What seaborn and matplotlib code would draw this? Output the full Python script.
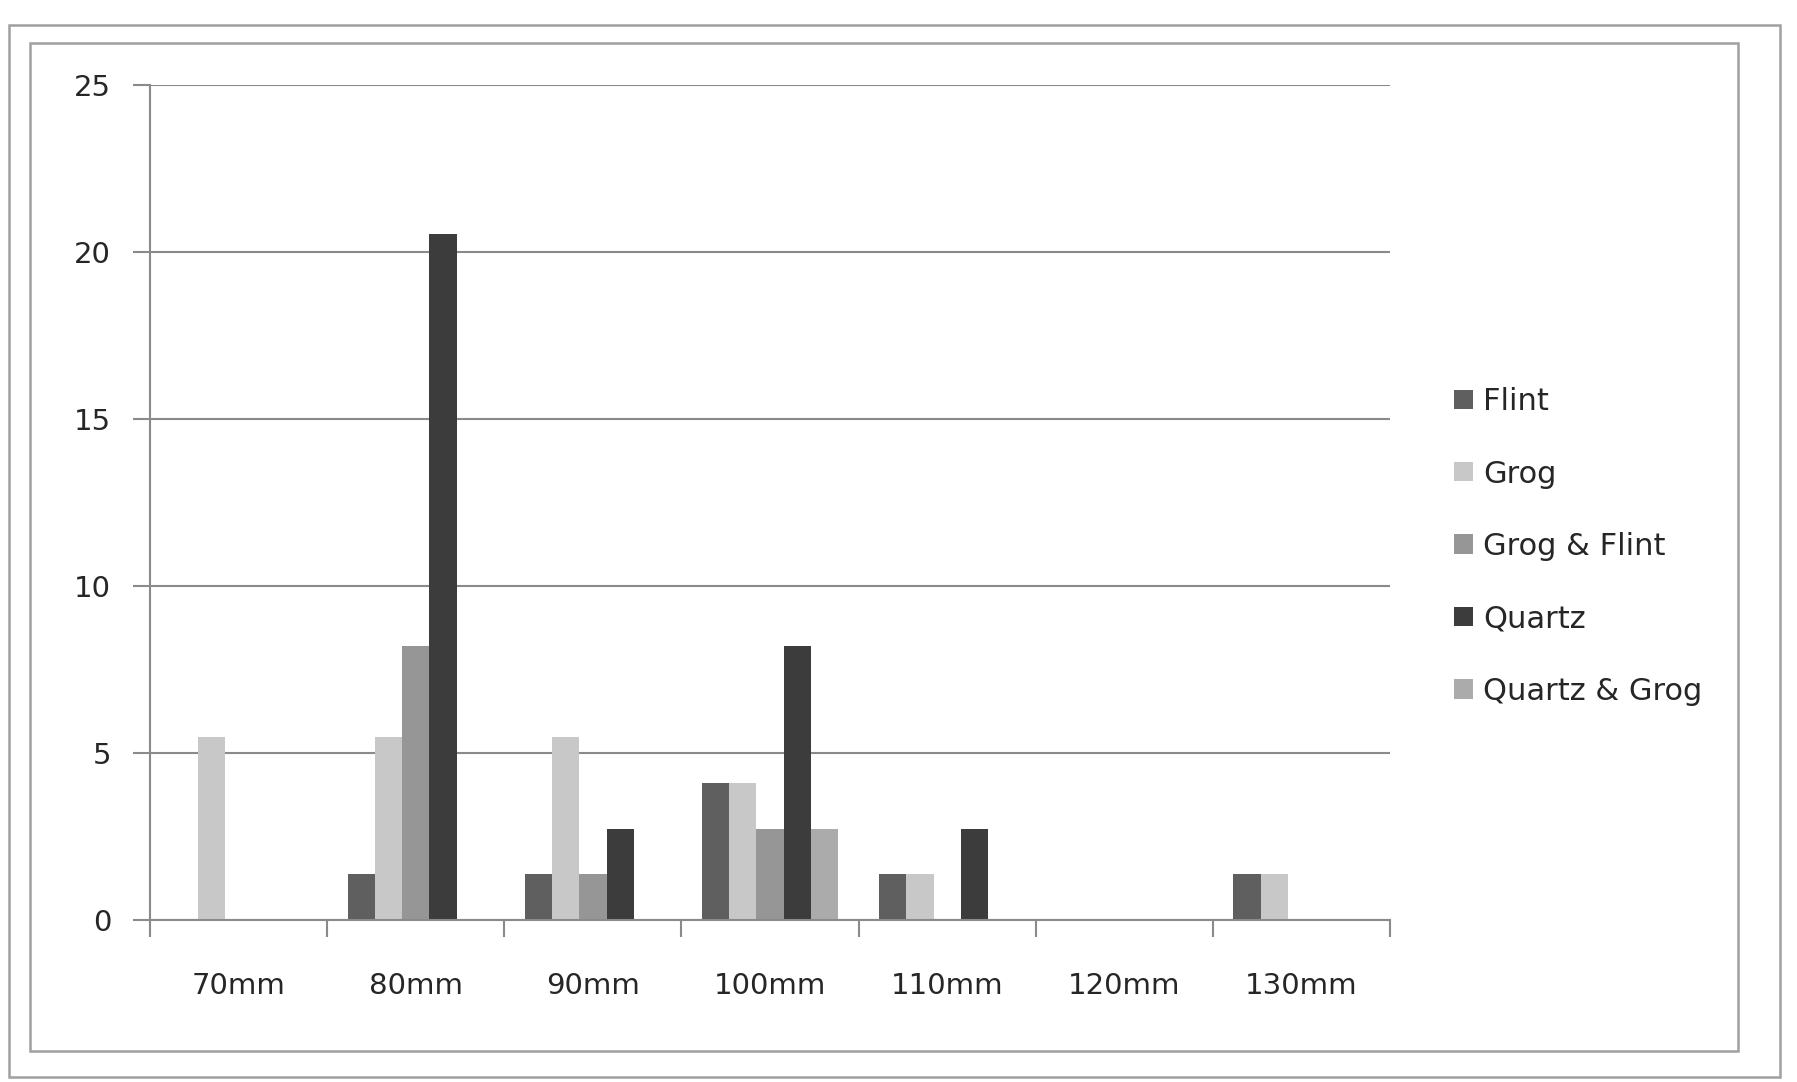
import numpy as np
import pandas as pd
import matplotlib
matplotlib.use('Agg')
import matplotlib.pyplot as plt
import seaborn as sns
from matplotlib.patches import Rectangle, Patch

# categories and values (% of vessels per rim diameter)
sizes = ['70mm', '80mm', '90mm', '100mm', '110mm', '120mm', '130mm']
fabrics = ['Flint', 'Grog', 'Grog & Flint', 'Quartz', 'Quartz & Grog']
flint = [0, 1.37, 1.37, 4.11, 1.37, 0, 1.37]
grog = [5.48, 5.48, 5.48, 4.11, 1.37, 0, 1.37]
grog_flint = [0, 8.22, 1.37, 2.74, 0, 0, 0]
quartz = [0, 20.55, 2.74, 8.22, 2.74, 0, 0]
quartz_grog = [0, 0, 0, 2.74, 0, 0, 0]
colours = ['#5f5f5f', '#c8c8c8', '#969696', '#3c3c3c', '#ababab']

df = pd.DataFrame({
    'Size': sizes * 5,
    'Fabric': np.repeat(fabrics, len(sizes)),
    'Percent': flint + grog + grog_flint + quartz + quartz_grog,
})

sns.set_style('white')
plt.rcParams['font.family'] = ['DejaVu Sans']

fig = plt.figure(figsize=(17.97, 10.82), dpi=100)
ax = fig.add_axes([0.0835, 0.1495, 0.690, 0.772])

sns.barplot(data=df, x='Size', y='Percent', hue='Fabric', order=sizes,
            hue_order=fabrics, palette=colours, width=5 / 6.5, gap=0,
            saturation=1, linewidth=0, ax=ax, legend=False)

# axes look
grey = '#8a8a8a'
ax.set_ylim(0, 25)
ax.set_yticks([0, 5, 10, 15, 20, 25])
ax.set_xlim(-0.5, len(sizes) - 0.5)
ax.set_xticks(np.arange(-0.5, len(sizes)), minor=False)
ax.set_xticklabels([])
ax.set_xticks(np.arange(len(sizes)), minor=True)
ax.set_xticklabels(sizes, minor=True)
ax.tick_params(axis='x', which='major', length=12, width=1.5, color=grey,
               direction='out', bottom=True)
ax.tick_params(axis='x', which='minor', length=0, pad=37, labelsize=21)
ax.tick_params(axis='y', length=12, width=1.5, color=grey, direction='out',
               left=True, labelsize=21, pad=16)
ax.yaxis.grid(True, color=grey, linewidth=1.5)
ax.set_axisbelow(True)
for s in ['top', 'right']:
    ax.spines[s].set_visible(False)
for s in ['left', 'bottom']:
    ax.spines[s].set_color(grey)
    ax.spines[s].set_linewidth(1.5)
ax.set_xlabel('')
ax.set_ylabel('')

# legend
handles = [Patch(facecolor=c, edgecolor='none') for c in colours]
fig.legend(handles, fabrics, loc='center left', bbox_to_anchor=(0.794, 0.495),
           frameon=False, fontsize=22, handlelength=0.6, handleheight=0.6,
           handletextpad=0.35, labelspacing=1.42)

# chart frames
fig.patches.append(Rectangle((0.005, 0.005), 0.9855, 0.972, transform=fig.transFigure,
                             fill=False, edgecolor='#a0a0a0', linewidth=1.8))
fig.patches.append(Rectangle((0.0167, 0.0285), 0.9505, 0.9315, transform=fig.transFigure,
                             fill=False, edgecolor='#a0a0a0', linewidth=1.8))

fig.savefig('out.png', dpi=100, facecolor='white')
